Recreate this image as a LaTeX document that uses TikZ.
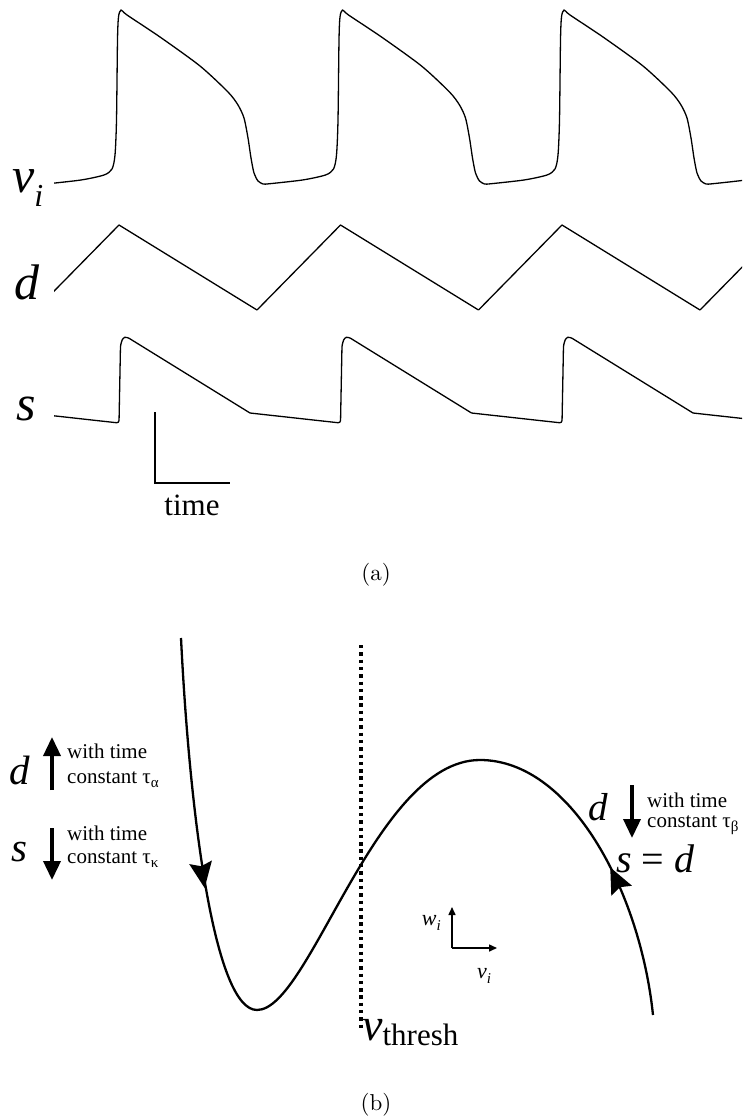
\documentclass[tikz,border=0pt]{standalone}
\usepackage{fontspec}
\newfontfamily\tms{Liberation Serif}
\newfontfamily\capfont[Extension=.otf]{lmroman10-regular}
\usetikzlibrary{arrows.meta}
\newcommand\setfs[1]{\fontsize{#1}{#1}\selectfont}

\begin{document}
\begin{tikzpicture}[
      x=1pt, y=-1pt,
      trace/.style={
        line width=1.3pt,
        line join=round
      },
      ncline/.style={
        line width=2.3pt
      },
      flowhead/.style={
        fill=black
      },
      bigarrow/.style={
        line width=3.6pt,
        -{Triangle[length=19pt, width=17pt]}
      },
      axarrow/.style={
        line width=1.5pt,
        -{Triangle[length=8pt, width=7pt]}
      },
      lbl/.style={
        inner sep=0pt,
        anchor=base west
      },
      note/.style={
        inner sep=0pt,
        anchor=base west,
        align=left
      }
    ]
    \useasboundingbox (0,0) rectangle (742,1118);

    % (a) traces
    \begin{scope}
      \clip (54,0) rectangle (742,500);
      \foreach \k in {0,...,3} {
        \draw[trace, xshift=\k*221.5] plot[smooth, tension=0.45] coordinates {
          (45.5,184) (81,180) (104,175) (112,169) (115,155) (116.5,120)
          (117.5,40) (118.5,17) (121,10) (127,15) (160,37) (200,66)
          (228,92) (238,105) (244,118) (248,138) (251,158) (254,173)
          (258,181) (263,184) (267,184)};
        \draw[trace, xshift=\k*221.5] (35.5,310) -- (119,225) -- (257,310);
        \draw[trace, rounded corners=2.5pt, xshift=\k*221.5]
          (28.5,413) -- (119,423) -- (120.5,345) -- (123,337.5) -- (127,337) -- (250,413);
      }
    \end{scope}

    \node[lbl] (lblv) at (12,193) {\tms\itshape\setfs{50}v\raisebox{-14pt}{\setfs{32}i}};
    \node[lbl] (lbld) at (14,299) {\tms\itshape\setfs{50}d};
    \node[lbl] (lbls) at (16,420) {\tms\itshape\setfs{50}s};

    % scale bar
    \coordinate (bartop) at (155,412);
    \coordinate (barend) at (230,483);
    \draw[line width=2.6pt] (bartop) |- (barend);
    \node[inner sep=0pt, anchor=base] (lbltime) at (192,515) {\tms\setfs{31}time};

    \node (capa) at (376,575) {\capfont\setfs{23}(a)};

    % (b) nullcline
    \coordinate (ncltop) at (181,638);
    \coordinate (nclmin) at (257,1010);
    \coordinate (nclmax) at (480,760);
    \coordinate (nclend) at (653,1015);
    \draw[ncline]
      (ncltop) .. controls (190,820) and (215,1010) .. (nclmin)
               .. controls (310,1010) and (375,760) .. (nclmax)
               .. controls (570,760) and (640,890) .. (nclend);
    \coordinate (flowA) at (204,884);
    \coordinate (flowB) at (612,871);
    \fill[flowhead, shift={(flowA)}, rotate=-81]
      (4pt,0pt) -- (-22pt,11.5pt) -- (-18pt,0pt) -- (-22pt,-11.5pt) -- cycle;
    \fill[flowhead, shift={(flowB)}, rotate=116]
      (4pt,0pt) -- (-22pt,11.5pt) -- (-18pt,0pt) -- (-22pt,-11.5pt) -- cycle;

    \coordinate (thtop) at (361,645);
    \coordinate (thbot) at (361,1030);
    \draw[line width=3.3pt, dash pattern=on 3.4pt off 3.9pt] (thtop) -- (thbot);
    \node[lbl] (vthresh) at (362,1040) {\tms\setfs{46}\textit{v}\raisebox{-5pt}{\setfs{31}thresh}};

    % left labels
    \node[lbl] (dleft) at (9,784) {\tms\itshape\setfs{41}d};
    \coordinate (dupA) at (52,790);
    \coordinate (dupB) at (52,737);
    \draw[bigarrow] (dupA) -- (dupB);
    \node[note, font=\tms\fontsize{21}{25}\selectfont] (dlefttxt) at (67,783)
      {with time\\constant τ\raisebox{-4pt}{\setfs{15}α}};

    \node[lbl] (sleft) at (11,861) {\tms\itshape\setfs{41}s};
    \coordinate (sdnA) at (52,828);
    \coordinate (sdnB) at (52,880);
    \draw[bigarrow] (sdnA) -- (sdnB);
    \node[note, font=\tms\fontsize{21}{23}\selectfont] (slefttxt) at (67,863)
      {with time\\constant τ\raisebox{-4pt}{\setfs{15}κ}};

    % right labels
    \node[lbl] (dright) at (588,820) {\tms\itshape\setfs{39}d};
    \coordinate (ddnA) at (632,785);
    \coordinate (ddnB) at (632,838);
    \draw[bigarrow] (ddnA) -- (ddnB);
    \node[note, font=\tms\fontsize{21}{20}\selectfont] (drighttxt) at (647,827)
      {with time\\constant τ\raisebox{-4pt}{\setfs{15}β}};
    \node[lbl] (seqd) at (616,872) {\tms\setfs{40}\textit{s} = \textit{d}};

    % mini axes
    \coordinate (axo) at (452,948);
    \coordinate (axw) at (452,907);
    \coordinate (axv) at (497,948);
    \draw[axarrow] (axo) -- (axw);
    \draw[axarrow] (axo) -- (axv);
    \node[inner sep=0pt, anchor=base east] (wlbl) at (441,925) {\tms\itshape\setfs{22}w\raisebox{-5pt}{\setfs{15}i}};
    \node[lbl] (vlbl) at (477,978) {\tms\itshape\setfs{22}v\raisebox{-5pt}{\setfs{15}i}};

    \node (capb) at (376,1105) {\capfont\setfs{23}(b)};

    \end{tikzpicture}
\end{document}
